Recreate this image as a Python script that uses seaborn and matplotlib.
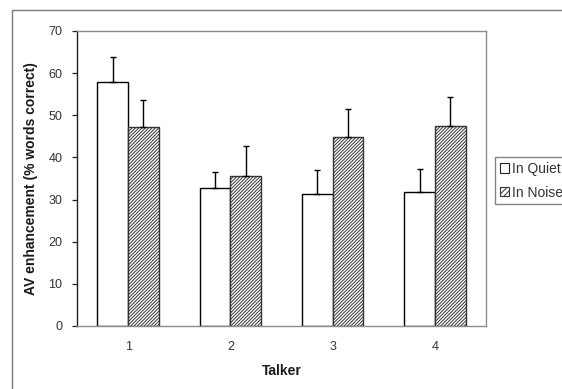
import matplotlib
matplotlib.use("Agg")
import matplotlib.pyplot as plt
from matplotlib.patches import Patch, Rectangle
import seaborn as sns
import pandas as pd

# Mean AV enhancement per talker, with upper error bars
talkers = ["1", "2", "3", "4"]
conditions = ["In Quiet", "In Noise"]
quiet_means = [57.9, 32.8, 31.4, 31.7]
noise_means = [47.2, 35.7, 44.8, 47.5]
quiet_err = [6.0, 3.8, 5.6, 5.5]
noise_err = [6.4, 6.9, 6.7, 6.8]
y_ticks = [0, 10, 20, 30, 40, 50, 60, 70]

df = pd.DataFrame({
    "Talker": talkers * 2,
    "Condition": [conditions[0]] * 4 + [conditions[1]] * 4,
    "value": quiet_means + noise_means,
})

sns.set_style("white")
plt.rcParams["font.family"] = ["Liberation Sans", "DejaVu Sans"]
plt.rcParams["hatch.linewidth"] = 0.7

HATCH = "//////////"

fig = plt.figure(figsize=(5.62, 3.89), dpi=100)
fig.patch.set_facecolor("white")
ax = fig.add_axes([77 / 562, 1 - 326 / 389, (486 - 77) / 562, (326 - 31) / 389])

sns.barplot(data=df, x="Talker", y="value", hue="Condition",
            palette=["white", "white"], width=0.6, gap=0,
            edgecolor="black", linewidth=1.0, errorbar=None,
            legend=False, ax=ax, saturation=1)

# Hatch the noise-condition bars
for bar in ax.containers[1]:
    bar.set_hatch(HATCH)
    bar.set_edgecolor("#333333")

# Upper-only error bars, positioned from the drawn bars
for cont, errs in zip(ax.containers, [quiet_err, noise_err]):
    xs = [b.get_x() + b.get_width() / 2 for b in cont]
    hs = [b.get_height() for b in cont]
    ax.errorbar(xs, hs, yerr=[[0] * len(errs), errs], fmt="none",
                ecolor="black", elinewidth=1.0, capsize=2.5, capthick=1.0,
                zorder=1)

ax.set_ylim(0, 70)
ax.set_yticks(y_ticks)
ax.set_xlim(-0.5, 3.5)

for side in ["top", "right", "bottom"]:
    ax.spines[side].set_visible(True)
    ax.spines[side].set_color("#8c8c8c")
    ax.spines[side].set_linewidth(1.0)
ax.spines["left"].set_color("#222222")
ax.spines["left"].set_linewidth(1.0)

ax.tick_params(axis="y", which="major", direction="out", length=3.5,
               width=0.9, color="#222222", pad=7, labelsize=9,
               labelcolor="#333333", left=True)
ax.tick_params(axis="x", length=0, pad=11, labelsize=9, labelcolor="#333333")

ax.set_xlabel("Talker", fontsize=10, fontweight="bold", color="#1a1a1a")
ax.set_ylabel("AV enhancement (% words correct)", fontsize=10,
              fontweight="bold", color="#1a1a1a")
ax.xaxis.set_label_coords(0.5, -0.13)
ax.yaxis.set_label_coords(-0.096, 0.5)

handles = [
    Patch(facecolor="white", edgecolor="#222222", linewidth=0.8),
    Patch(facecolor="white", edgecolor="#333333", hatch="//////", linewidth=0.8),
]
leg = fig.legend(handles, conditions, loc="upper left",
                 bbox_to_anchor=(495 / 562, 1 - 157 / 389),
                 bbox_transform=fig.transFigure, fontsize=10,
                 frameon=True, fancybox=False, shadow=False,
                 handlelength=0.65, handleheight=0.65, handletextpad=0.2,
                 borderpad=0.35, labelspacing=0.7, borderaxespad=0)
leg.get_frame().set_edgecolor("#666666")
leg.get_frame().set_linewidth(1.0)
for t in leg.get_texts():
    t.set_color("#333333")

# Outer chart frame
fig.patches.append(Rectangle((12 / 562, -0.05), 1.2, 1 - 10 / 389 + 0.05,
                             transform=fig.transFigure, fill=False,
                             edgecolor="#7a7a7a", linewidth=1.0))

fig.savefig("out.png", dpi=100)
